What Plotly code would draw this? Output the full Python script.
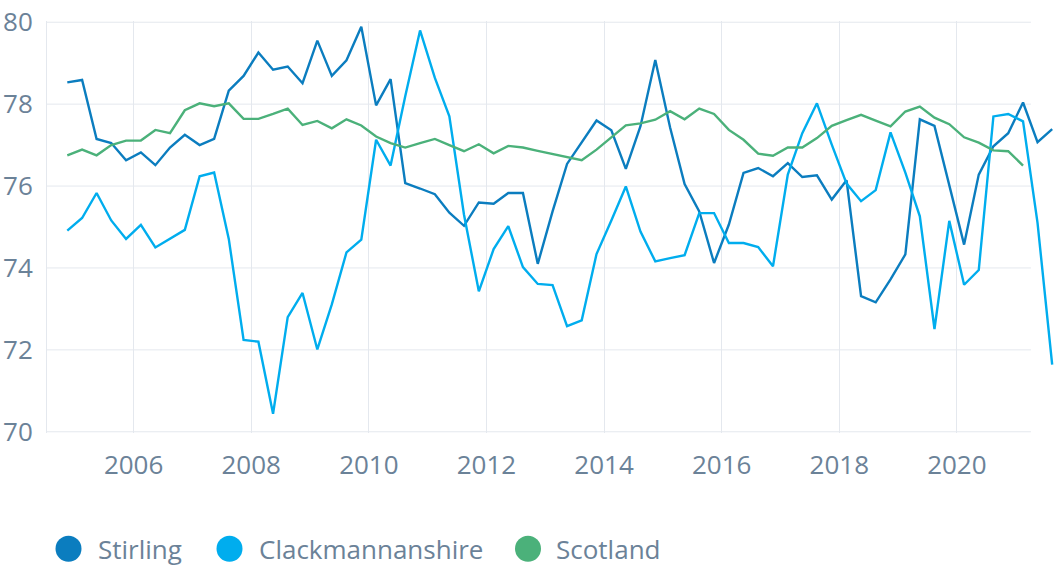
import pandas as pd
import plotly.graph_objects as go

# Quarterly periods (mid-quarter dates), first period Q4 2004
quarters = pd.period_range("2004Q4", periods=68, freq="Q")
dates = [p.start_time + pd.Timedelta(days=45) for p in quarters]

stirling = [78.53, 78.59, 77.15, 77.05, 76.63, 76.82, 76.51, 76.94, 77.25, 77.00,
            77.15, 78.33, 78.69, 79.26, 78.84, 78.92, 78.51, 79.55, 78.69, 79.07,
            79.89, 77.97, 78.61, 76.07, 75.94, 75.80, 75.35, 75.03, 75.60, 75.57,
            75.83, 75.83, 74.10, 75.38, 76.54, 77.08, 77.60, 77.36, 76.42, 77.46,
            79.08, 77.43, 76.05, 75.38, 74.12, 75.06, 76.32, 76.44, 76.24, 76.56,
            76.22, 76.26, 75.67, 76.14, 73.31, 73.16, 73.72, 74.33, 77.63, 77.47,
            76.03, 74.57, 76.28, 76.97, 77.29, 78.04, 77.07, 77.39]

clackmannanshire = [74.91, 75.22, 75.83, 75.16, 74.71, 75.05, 74.50, 74.72, 74.93, 76.24,
                    76.33, 74.71, 72.24, 72.20, 70.44, 72.80, 73.39, 72.01, 73.11, 74.38,
                    74.69, 77.13, 76.50, 78.19, 79.80, 78.64, 77.70, 75.30, 73.43, 74.46,
                    75.02, 74.02, 73.61, 73.58, 72.58, 72.72, 74.34, 75.16, 75.99, 74.89,
                    74.16, 74.24, 74.31, 75.34, 75.34, 74.61, 74.61, 74.51, 74.04, 76.28,
                    77.29, 78.02, 77.01, 76.06, 75.63, 75.90, 77.31, 76.33, 75.26, 72.51,
                    75.15, 73.59, 73.95, 77.70, 77.76, 77.58, 75.10, 71.64]

scotland = [76.75, 76.89, 76.75, 77.00, 77.11, 77.11, 77.37, 77.29, 77.85, 78.02,
            77.95, 78.02, 77.64, 77.64, 77.76, 77.89, 77.49, 77.59, 77.41, 77.63,
            77.48, 77.21, 77.05, 76.94, 77.05, 77.15, 77.00, 76.85, 77.02, 76.80,
            76.98, 76.94, 76.86, 76.78, 76.72, 76.63, 76.89, 77.19, 77.48, 77.53,
            77.62, 77.83, 77.63, 77.89, 77.76, 77.37, 77.13, 76.79, 76.74, 76.94,
            76.94, 77.17, 77.47, 77.61, 77.74, 77.60, 77.46, 77.82, 77.94, 77.67,
            77.51, 77.19, 77.06, 76.87, 76.85, 76.50]

series_names = ["Stirling", "Clackmannanshire", "Scotland"]
series_values = [stirling, clackmannanshire, scotland]
series_colors = ["#0b7dbf", "#00adee", "#4bb17a"]

y_ticks = [70, 72, 74, 76, 78, 80]

TEXT = "#6b8298"
GRID = "#e4e8ee"
FONT = "Open Sans"

W, H = 1064, 567
L, R = 47, 1062
T, B = 20.8, 433.2

fig = go.Figure()
for name, vals, col in zip(series_names, series_values, series_colors):
    fig.add_trace(go.Scatter(
        x=dates[:len(vals)], y=vals, mode="lines", name=name,
        line=dict(color=col, width=2.4), showlegend=False,
    ))

x_start = "2004-07-12"
x_end = "2021-10-15"
grid_end = "2021-04-05"

shapes = []
for v in y_ticks:
    shapes.append(dict(type="line", xref="x", yref="y", x0=x_start, x1=grid_end,
                       y0=v, y1=v, line=dict(color=GRID, width=1), layer="below"))

# custom legend
pw, ph = R - L, B - T
def px_x(px):
    return (px - L) / pw
def px_y(py):
    return (B - py) / ph

annotations = []
legend_circles = [68.5, 229.5, 528]
legend_texts = [97, 258, 555]
ly = 549
for name, col, cx, tx in zip(series_names, series_colors, legend_circles, legend_texts):
    shapes.append(dict(type="circle", xref="paper", yref="paper",
                       xsizemode="pixel", ysizemode="pixel",
                       xanchor=px_x(cx), yanchor=px_y(ly),
                       x0=-13, x1=13, y0=-13, y1=13,
                       fillcolor=col, line=dict(width=0)))
    annotations.append(dict(text=name, xref="paper", yref="paper",
                            x=px_x(tx - 1), y=px_y(ly), xanchor="left", yanchor="middle",
                            showarrow=False, font=dict(family=FONT, size=26, color=TEXT)))

fig.update_layout(
    width=W, height=H, autosize=False,
    margin=dict(l=L, r=W - R, t=T, b=H - B, pad=0),
    paper_bgcolor="white", plot_bgcolor="white",
    font=dict(family=FONT, size=26, color=TEXT),
    shapes=shapes, annotations=annotations,
    showlegend=False,
    xaxis=dict(
        type="date", range=[x_start, x_end],
        tickformat="%Y", dtick="M24", tick0="2006-01-01",
        showgrid=True, gridcolor=GRID, gridwidth=1,
        zeroline=False, showline=False, ticks="",
        ticklabelstandoff=14,
        tickfont=dict(family=FONT, size=26, color=TEXT),
    ),
    yaxis=dict(
        range=[69.97, 80.03], tickvals=y_ticks,
        showgrid=False, zeroline=False,
        showline=True, linecolor=GRID, linewidth=1,
        ticks="", ticklabelstandoff=8,
        tickfont=dict(family=FONT, size=26, color=TEXT),
    ),
)

fig.write_html("out.html")
